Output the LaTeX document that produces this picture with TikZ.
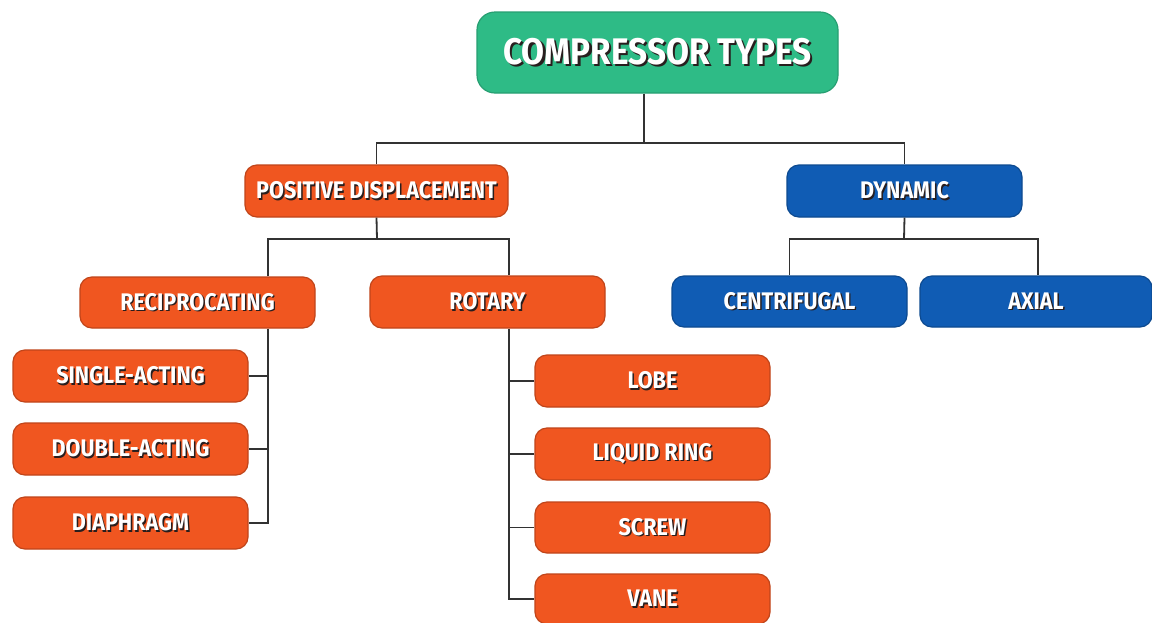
\documentclass[tikz,border=0pt]{standalone}
\usepackage{fontspec}
\newfontfamily\lblfont{Fira Sans}[FakeStretch=0.9]
\definecolor{rootgreen}{RGB}{46,187,134}
\definecolor{pdorange}{RGB}{240,86,32}
\definecolor{dynblue}{RGB}{16,92,180}
\definecolor{linkgray}{RGB}{50,50,50}
\definecolor{txtshadow}{RGB}{40,30,30}
% white label with a dark drop shadow
\newcommand\shadowed[1]{\leavevmode\rlap{\kern0.06em\raisebox{-0.06em}{\color{txtshadow}#1}}#1}
\tikzset{
  box/.style={rectangle, rounded corners=12pt, line width=1.2pt,
    minimum width=235pt, minimum height=52pt, inner sep=0pt,
    text=white, font=\lblfont\bfseries\fontsize{24}{24}\selectfont},
  orangebox/.style={box, fill=pdorange, draw=pdorange!80!black},
  bluebox/.style={box, fill=dynblue, draw=dynblue!80!black},
  rootbox/.style={box, fill=rootgreen, draw=rootgreen!85!black,
    rounded corners=18pt, minimum width=361pt, minimum height=81pt,
    font=\lblfont\bfseries\fontsize{37}{37}\selectfont},
  link/.style={draw=linkgray, line width=1.8pt}
}
\begin{document}
\begin{tikzpicture}[x=1pt,y=-1pt]
\useasboundingbox (0,0) rectangle (1152,622);
\fill[white] (0,0) rectangle (1152,622);

% top level
\node[rootbox] (root) at (657.5,52.5) {\shadowed{COMPRESSOR TYPES}};
\node[orangebox, minimum width=263pt] (pd) at (376.5,191) {\shadowed{POSITIVE DISPLACEMENT}};
\node[bluebox] (dyn) at (904.5,191) {\shadowed{DYNAMIC}};

% second level
\node[orangebox, minimum height=51pt] (rec) at (197.5,302.5) {\shadowed{RECIPROCATING}};
\node[orangebox] (rot) at (487.5,302) {\shadowed{ROTARY}};
\node[bluebox, minimum height=51pt] (cen) at (789.5,301.5) {\shadowed{CENTRIFUGAL}};
\node[bluebox, minimum width=232pt, minimum height=51pt] (axi) at (1036,301.5) {\shadowed{AXIAL}};

% reciprocating types
\node[orangebox] (sa) at (130.5,376) {\shadowed{SINGLE-ACTING}};
\node[orangebox] (da) at (130.5,449) {\shadowed{DOUBLE-ACTING}};
\node[orangebox] (dia) at (130.5,523) {\shadowed{DIAPHRAGM}};

% rotary types
\node[orangebox] (lobe) at (652.5,381) {\shadowed{LOBE}};
\node[orangebox] (liq) at (652.5,454) {\shadowed{LIQUID RING}};
\node[orangebox, minimum height=51pt] (scr) at (652.5,527.5) {\shadowed{SCREW}};
\node[orangebox, minimum height=50pt] (vane) at (652.5,599) {\shadowed{VANE}};

% bus positions
\coordinate (h1) at (644,143);
\coordinate (h2) at (377,239);
\coordinate (h3) at (904,239);
\coordinate (recbus) at (268,0);
\coordinate (rotbus) at (509,0);

% connectors
\draw[link] (root.south -| h1) -- (h1);
\draw[link] (pd.north) |- (h1) -| (dyn.north);

\draw[link] (pd.south) -- (h2);
\draw[link] (rec.north -| recbus) |- (h2) -| (rot.north -| rotbus);

\draw[link] (dyn.south) -- (h3);
\draw[link] (cen.north) |- (h3) -| ([xshift=2pt]axi.north);

\draw[link] (rec.south -| recbus) |- (dia.east);
\draw[link] (sa.east) -- (sa.east -| recbus);
\draw[link] (da.east) -- (da.east -| recbus);

\draw[link] (rot.south -| rotbus) |- (vane.west);
\draw[link] (lobe.west) -- (lobe.west -| rotbus);
\draw[link] (liq.west) -- (liq.west -| rotbus);
\draw[link] (scr.west) -- (scr.west -| rotbus);
\end{tikzpicture}
\end{document}
